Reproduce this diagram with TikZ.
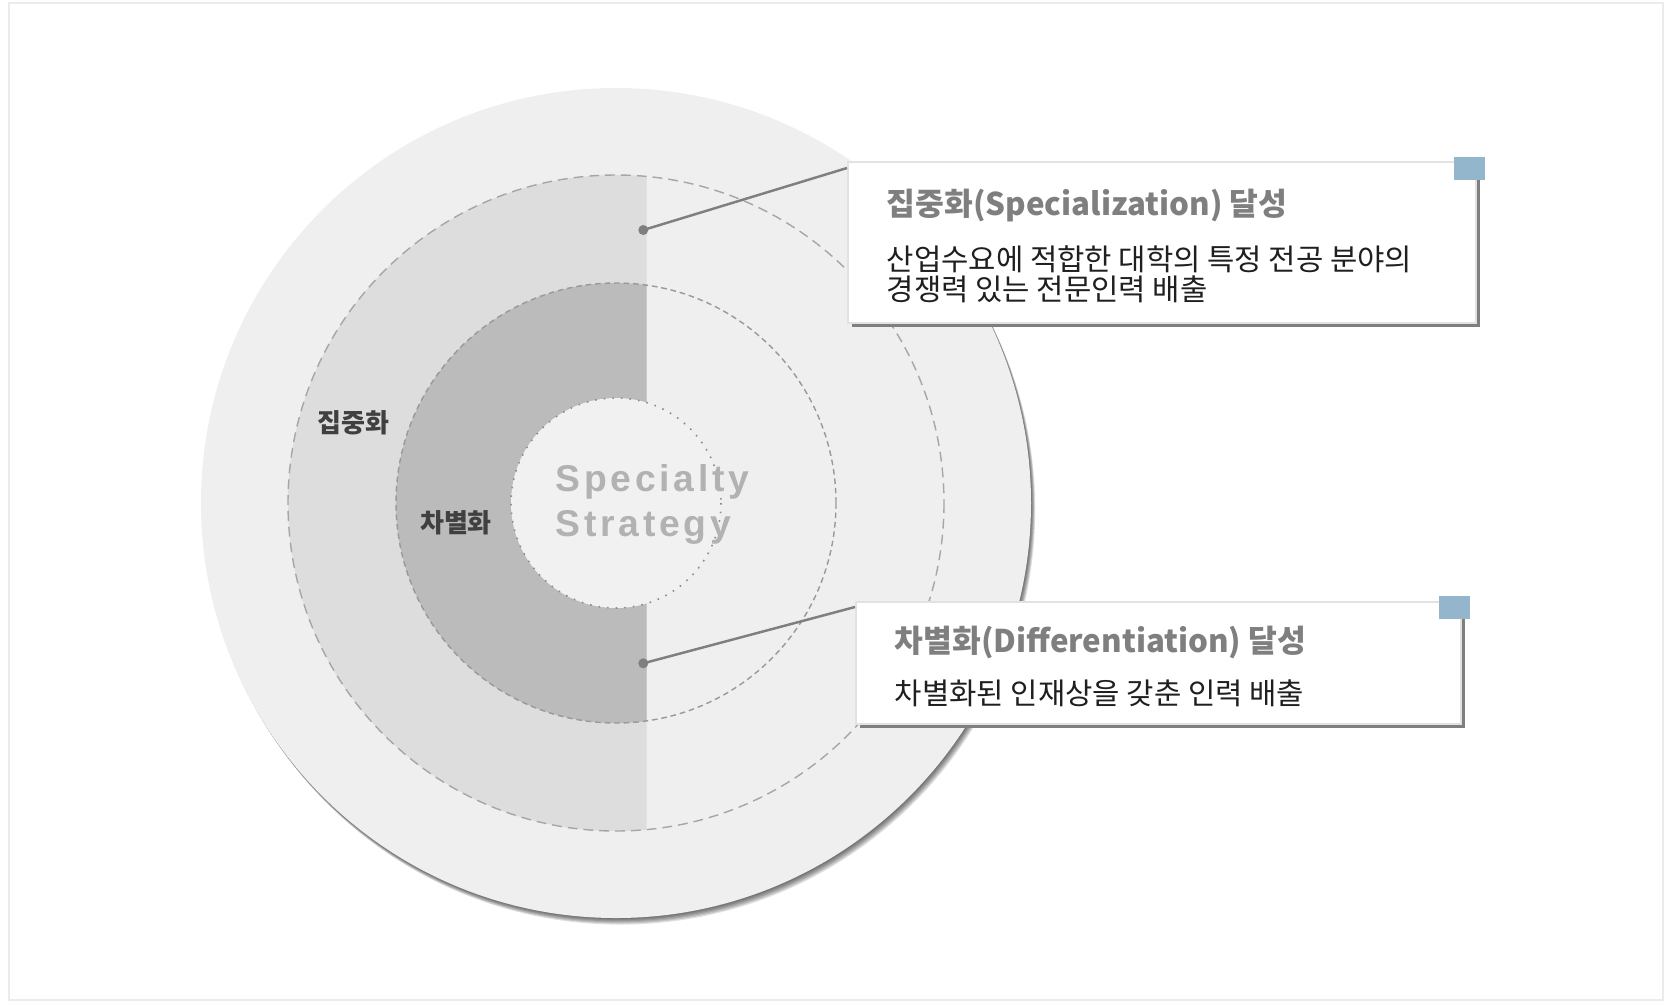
\documentclass[tikz,border=0pt]{standalone}
\usepackage{fontspec}
\newfontfamily\krfont{Noto Sans CJK KR}
\newfontfamily\specfont[LetterSpace=10]{Liberation Sans}
\usetikzlibrary{positioning,calc,shadows}
\definecolor{ringlight}{HTML}{EFEFEF}
\definecolor{ringmid}{HTML}{DDDDDD}
\definecolor{ringdark}{HTML}{BBBBBB}
\definecolor{corefill}{HTML}{F1F1F1}
\definecolor{leadgray}{HTML}{7F7F7F}
\definecolor{tagblue}{HTML}{93B6CD}
\definecolor{boxedge}{HTML}{E2E2E2}
\tikzset{
  dashring/.style={draw=black!35, dash pattern=on 2.8pt off 1.7pt, line width=0.4pt},
  darkring/.style={draw=black!40, dash pattern=on 1.6pt off 1.1pt, line width=0.4pt},
  corering/.style={draw=black!45, dotted, line width=0.45pt},
  infobox/.style={draw=boxedge, line width=0.6pt, fill=white, inner sep=0pt,
    drop shadow={shadow xshift=0.04cm, shadow yshift=-0.04cm, fill=leadgray, opacity=1}},
  tagsq/.style={fill=tagblue, inner sep=0pt, minimum width=0.31cm, minimum height=0.23cm},
  dotmark/.style={circle, fill=leadgray, inner sep=0pt, minimum size=0.1cm},
  leader/.style={draw=leadgray, line width=0.7pt},
  ringlabel/.style={font=\krfont\bfseries\fontsize{7.4}{8}\selectfont, text=black!75, inner sep=0pt},
  boxtitle/.style={font=\krfont\bfseries\fontsize{8.9}{10}\selectfont, text=leadgray, inner sep=0pt},
  boxbody/.style={font=\krfont\fontsize{8.45}{8.6}\selectfont, text=black!88, inner sep=0pt, align=left},
  spectext/.style={font=\specfont\bfseries\fontsize{10.6}{12}\selectfont, text=black!30, inner sep=0pt}
}
\begin{document}
\begin{tikzpicture}[x=0.01cm, y=-0.01cm]
    \useasboundingbox (0,0) rectangle (1672,1002);
    %Frame
    \draw[boxedge!70, line width=0.5pt] (9,3) rectangle (1663,1000);
    %Outer shadow
    \foreach \d in {1,2,3,4,5,6}
        \fill[black, opacity=0.12] (616+0.7*\d,503+1.1*\d) circle (415);
    %Outer circle
    \fill[ringlight] (616,503) circle (415);
    \fill[ringlight] (616,503) circle (328);
    %Left halves
    \begin{scope}
        \clip (0,0) rectangle (646.7,1002);
        \fill[ringmid] (616,503) circle (328);
        \fill[ringdark] (616,503) circle (220);
    \end{scope}
    \draw[dashring] (616,503) circle (328);
    \draw[darkring] (616,503) circle (220);
    %Core
    \fill[corefill] (616,503) circle (105);
    \draw[corering] (616,503) circle (105);
    \node[spectext, anchor=base west] (specA) at (555,491.7) {Specialty};
    \node[spectext, anchor=base west] (specB) at (555,536) {Strategy};
    %Ring labels
    \node[ringlabel] (lblA) at (353.5,423) {집중화};
    \node[ringlabel] (lblB) at (456,523) {차별화};
    %Box A
    \node[infobox, anchor=north west, minimum width=6.28cm, minimum height=1.61cm] (boxA) at (847,161) {};
    \node[tagsq, anchor=north west] (tagA) at ($(boxA.north east)+(-24,-5)$) {};
    \node[boxtitle, anchor=west] (titleA) at (886,206) {집중화(Specialization) 달성};
    \node[boxbody, anchor=west] (bodyA) at (886,274) {산업수요에 적합한 대학의 특정 전공 분야의\\경쟁력 있는 전문인력 배출};
    \node[dotmark] (dotA) at (643.3,230) {};
    \draw[leader] (dotA.center) -- ($(boxA.north west)+(0,7)$);
    %Box B
    \node[infobox, anchor=north west, minimum width=6.05cm, minimum height=1.22cm] (boxB) at (855,601) {};
    \node[tagsq, anchor=north west] (tagB) at ($(boxB.north east)+(-24,-6)$) {};
    \node[boxtitle, anchor=west] (titleB) at (894,642) {차별화(Differentiation) 달성};
    \node[boxbody, anchor=west] (bodyB) at (894,693) {차별화된 인재상을 갖춘 인력 배출};
    \node[dotmark] (dotB) at (643.3,663.3) {};
    \draw[leader] (dotB.center) -- ($(boxB.north west)+(0,6)$);
\end{tikzpicture}
\end{document}
